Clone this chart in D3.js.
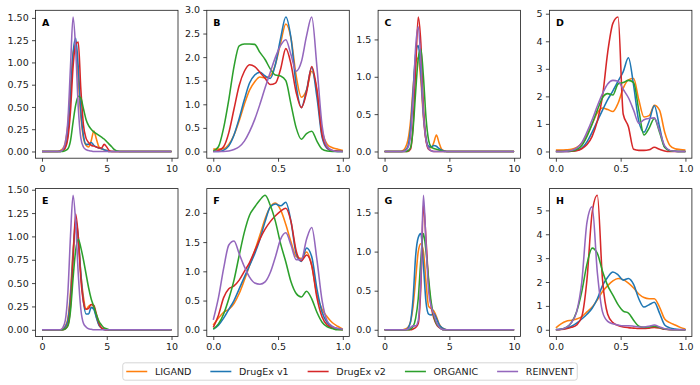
<!DOCTYPE html>
<html>
<head>
<meta charset="utf-8">
<script src="https://cdn.jsdelivr.net/npm/d3@7"></script>
<style>
  body { margin: 0; background: #fff; }
  svg { display: block; font-family: "DejaVu Sans", sans-serif; }
</style>
</head>
<body>
<svg id="chart"></svg>
<script>
// density curves of 8 properties for 5 generators

const seriesNames = ["LIGAND", "DrugEx v1", "DrugEx v2", "ORGANIC", "REINVENT"];
const panelLetters = ["A", "B", "C", "D", "E", "F", "G", "H"];

// x grids: A, C, E, G run 0..10, the others 0..1
const wideX = [0, 1.2, 1.4, 1.6, 1.8, 2.0, 2.2, 2.4, 2.6, 2.8, 3.0, 3.2, 3.4, 3.6, 3.8,
  4.0, 4.2, 4.4, 4.6, 4.8, 5.0, 5.2, 5.4, 5.6, 5.8, 6.0, 10];
const unitX = [0, 0.04, 0.08, 0.12, 0.16, 0.2, 0.24, 0.28, 0.32, 0.36, 0.4, 0.44, 0.48,
  0.52, 0.56, 0.6, 0.64, 0.68, 0.72, 0.76, 0.8, 0.84, 0.88, 0.92, 0.96, 1.0];

const wideXTicks = [0, 5, 10];
const unitXTicks = [0, 0.5, 1];

const yTicksA = [0, 0.25, 0.5, 0.75, 1, 1.25, 1.5];
const yTicksB = [0, 0.5, 1, 1.5, 2, 2.5, 3];
const yTicksC = [0, 0.5, 1, 1.5];
const yTicksD = [0, 1, 2, 3, 4, 5];
const yTicksE = [0, 0.25, 0.5, 0.75, 1, 1.25, 1.5];
const yTicksF = [0, 0.5, 1, 1.5, 2];
const yTicksG = [0, 0.5, 1, 1.5];
const yTicksH = [0, 1, 2, 3, 4, 5];

// order of rows in each: LIGAND, DrugEx v1, DrugEx v2, ORGANIC, REINVENT
const densA = [
  [0, 0, 0.01, 0.03, 0.1, 0.3, 0.7, 1.1, 1.2, 0.8, 0.4, 0.15, 0.07, 0.05, 0.12, 0.23, 0.14, 0.05, 0.03, 0.02, 0.01, 0, 0, 0, 0, 0, 0],
  [0, 0, 0, 0.01, 0.05, 0.2, 0.6, 1.1, 1.27, 0.95, 0.45, 0.18, 0.08, 0.08, 0.1, 0.07, 0.05, 0.04, 0.03, 0.02, 0.01, 0, 0, 0, 0, 0, 0],
  [0, 0, 0, 0.01, 0.04, 0.15, 0.45, 0.95, 1.2, 1.23, 0.7, 0.3, 0.15, 0.1, 0.07, 0.06, 0.05, 0.04, 0.04, 0.08, 0.05, 0.01, 0, 0, 0, 0, 0],
  [0, 0, 0, 0, 0.01, 0.03, 0.12, 0.33, 0.52, 0.62, 0.6, 0.48, 0.36, 0.29, 0.25, 0.22, 0.2, 0.18, 0.16, 0.14, 0.11, 0.08, 0.05, 0.02, 0.005, 0, 0],
  [0, 0, 0, 0.02, 0.1, 0.35, 0.95, 1.51, 1.15, 0.5, 0.15, 0.05, 0.02, 0.01, 0.005, 0, 0, 0, 0, 0, 0, 0, 0, 0, 0, 0, 0]
];
const densB = [
  [0.05, 0.05, 0.06, 0.15, 0.35, 0.65, 1.0, 1.3, 1.48, 1.58, 1.56, 1.6, 1.85, 2.3, 2.7, 2.4, 1.6, 1.15, 1.3, 1.7, 1.3, 0.45, 0.15, 0.08, 0.05, 0.02],
  [0, 0, 0.03, 0.12, 0.35, 0.7, 1.1, 1.45, 1.62, 1.68, 1.6, 1.55, 1.85, 2.4, 2.85, 2.4, 1.4, 0.93, 1.3, 1.78, 1.15, 0.3, 0.06, 0.01, 0, 0],
  [0, 0.02, 0.1, 0.4, 0.9, 1.4, 1.7, 1.84, 1.8, 1.68, 1.55, 1.42, 1.45, 1.75, 2.18, 1.85, 1.25, 0.93, 1.25, 1.8, 1.3, 0.35, 0.08, 0.02, 0.01, 0],
  [0.01, 0.1, 0.5, 1.1, 1.8, 2.24, 2.28, 2.28, 2.27, 2.1, 1.95, 1.75, 1.62, 1.6, 1.5, 1.0, 0.5, 0.26, 0.38, 0.43, 0.22, 0.05, 0.01, 0, 0, 0],
  [0, 0, 0, 0.01, 0.04, 0.1, 0.22, 0.42, 0.68, 1.0, 1.35, 1.68, 2.0, 2.25, 2.37, 2.05, 1.7, 1.9, 2.45, 2.85, 1.8, 0.55, 0.1, 0.02, 0, 0]
];
const densC = [
  [0, 0, 0.01, 0.05, 0.15, 0.4, 0.85, 1.2, 1.25, 0.95, 0.45, 0.15, 0.06, 0.05, 0.12, 0.22, 0.12, 0.03, 0.01, 0, 0, 0, 0, 0, 0, 0, 0],
  [0, 0, 0, 0.02, 0.07, 0.3, 0.8, 1.3, 1.42, 1.05, 0.5, 0.18, 0.07, 0.06, 0.08, 0.07, 0.04, 0.02, 0.005, 0, 0, 0, 0, 0, 0, 0, 0],
  [0, 0, 0, 0, 0, 0.03, 0.35, 1.1, 1.8, 1.45, 0.6, 0.15, 0.03, 0.01, 0, 0, 0, 0, 0, 0, 0, 0, 0, 0, 0, 0, 0],
  [0, 0, 0, 0, 0.01, 0.05, 0.3, 0.8, 1.25, 1.37, 1.0, 0.45, 0.15, 0.06, 0.04, 0.03, 0.02, 0.01, 0, 0, 0, 0, 0, 0, 0, 0, 0],
  [0, 0, 0, 0.01, 0.05, 0.2, 0.7, 1.4, 1.67, 1.2, 0.5, 0.15, 0.04, 0.01, 0, 0, 0, 0, 0, 0, 0, 0, 0, 0, 0, 0, 0]
];
const densD = [
  [0.05, 0.05, 0.06, 0.08, 0.15, 0.3, 0.6, 1.0, 1.4, 1.58, 1.52, 1.45, 1.75, 2.3, 2.6, 2.65, 1.88, 1.25, 1.3, 1.68, 1.5, 0.7, 0.22, 0.1, 0.07, 0.05],
  [0, 0, 0, 0.01, 0.04, 0.12, 0.35, 0.7, 1.1, 1.5, 1.88, 2.2, 2.55, 2.9, 3.4, 2.4, 1.1, 0.7, 1.1, 1.66, 0.9, 0.15, 0.03, 0.01, 0, 0],
  [0, 0, 0, 0.01, 0.03, 0.1, 0.25, 0.55, 1.1, 2.0, 3.6, 4.65, 4.88, 1.35, 0.9, 0.08, 0.04, 0.04, 0.06, 0.15, 0.08, 0.02, 0, 0, 0, 0],
  [0, 0, 0.01, 0.02, 0.07, 0.22, 0.55, 1.0, 1.5, 1.95, 2.1, 2.05, 2.45, 2.5, 2.58, 2.5, 1.5, 0.6, 0.85, 1.2, 0.7, 0.15, 0.03, 0.01, 0, 0],
  [0, 0, 0.01, 0.04, 0.12, 0.32, 0.7, 1.15, 1.65, 2.1, 2.45, 2.58, 2.55, 2.25, 1.95, 1.5, 1.02, 1.15, 1.2, 1.22, 0.75, 0.2, 0.04, 0.01, 0, 0]
];
const densE = [
  [0, 0, 0, 0.01, 0.04, 0.12, 0.4, 0.85, 1.1, 0.95, 0.6, 0.35, 0.22, 0.25, 0.27, 0.24, 0.14, 0.05, 0.02, 0.005, 0, 0, 0, 0, 0, 0, 0],
  [0, 0, 0, 0, 0.03, 0.1, 0.35, 0.8, 1.17, 1.0, 0.6, 0.3, 0.17, 0.17, 0.24, 0.22, 0.13, 0.05, 0.02, 0, 0, 0, 0, 0, 0, 0, 0],
  [0, 0, 0, 0, 0.01, 0.05, 0.25, 0.75, 1.24, 1.0, 0.55, 0.3, 0.22, 0.23, 0.27, 0.26, 0.17, 0.07, 0.02, 0.005, 0, 0, 0, 0, 0, 0, 0],
  [0, 0, 0, 0, 0.01, 0.04, 0.2, 0.55, 0.85, 0.97, 0.88, 0.75, 0.6, 0.45, 0.33, 0.25, 0.16, 0.09, 0.05, 0.02, 0.01, 0, 0, 0, 0, 0, 0],
  [0, 0, 0, 0.02, 0.1, 0.4, 1.0, 1.44, 1.15, 0.6, 0.22, 0.07, 0.03, 0.01, 0.005, 0, 0, 0, 0, 0, 0, 0, 0, 0, 0, 0, 0]
];
const densF = [
  [0.08, 0.2, 0.3, 0.35, 0.45, 0.62, 0.85, 1.1, 1.35, 1.62, 1.9, 2.1, 2.17, 2.05, 1.8, 1.5, 1.25, 1.22, 1.33, 1.1, 0.6, 0.35, 0.22, 0.12, 0.06, 0.01],
  [0.01, 0.08, 0.2, 0.35, 0.5, 0.7, 0.9, 1.1, 1.3, 1.55, 1.85, 2.1, 2.15, 2.12, 2.18, 1.85, 1.3, 1.17, 1.4, 1.25, 0.7, 0.3, 0.12, 0.05, 0.02, 0],
  [0.04, 0.25, 0.55, 0.7, 0.75, 0.85, 1.0, 1.15, 1.35, 1.55, 1.72, 1.85, 1.95, 2.03, 2.08, 1.85, 1.35, 1.18, 1.28, 1.1, 0.55, 0.22, 0.08, 0.03, 0.01, 0],
  [0.01, 0.1, 0.27, 0.53, 0.85, 1.27, 1.67, 1.96, 2.1, 2.22, 2.3, 2.13, 1.85, 1.47, 1.16, 0.82, 0.62, 0.56, 0.66, 0.53, 0.3, 0.13, 0.05, 0.02, 0, 0],
  [0.17, 0.55, 1.05, 1.45, 1.52, 1.3, 1.08, 0.9, 0.8, 0.78, 0.82, 0.98, 1.25, 1.55, 1.66, 1.45, 1.2, 1.2, 1.55, 1.75, 1.2, 0.5, 0.15, 0.06, 0.02, 0.01]
];
const densG = [
  [0, 0, 0, 0.01, 0.03, 0.1, 0.3, 0.65, 1.0, 1.1, 1.0, 0.6, 0.3, 0.27, 0.24, 0.17, 0.08, 0.03, 0.01, 0, 0, 0, 0, 0, 0, 0, 0],
  [0, 0, 0, 0, 0.02, 0.1, 0.4, 0.95, 1.18, 1.23, 0.82, 0.35, 0.2, 0.19, 0.21, 0.15, 0.07, 0.03, 0.01, 0, 0, 0, 0, 0, 0, 0, 0],
  [0, 0, 0, 0, 0, 0, 0.01, 0.03, 0.08, 0.55, 1.6, 1.15, 0.6, 0.3, 0.15, 0.07, 0.03, 0.01, 0, 0, 0, 0, 0, 0, 0, 0, 0],
  [0, 0, 0, 0, 0, 0.01, 0.04, 0.15, 0.4, 0.9, 1.23, 1.0, 0.65, 0.35, 0.18, 0.08, 0.04, 0.01, 0, 0, 0, 0, 0, 0, 0, 0, 0],
  [0, 0, 0, 0, 0.01, 0.03, 0.05, 0.05, 0.12, 0.65, 1.72, 1.1, 0.5, 0.3, 0.2, 0.1, 0.04, 0.01, 0, 0, 0, 0, 0, 0, 0, 0, 0]
];
const densH = [
  [0.08, 0.25, 0.36, 0.4, 0.45, 0.55, 0.75, 0.95, 1.25, 1.6, 1.85, 2.05, 2.15, 2.1, 1.95, 1.75, 1.5, 1.35, 1.3, 1.3, 0.95, 0.45, 0.3, 0.2, 0.1, 0.03],
  [0.01, 0.02, 0.06, 0.15, 0.28, 0.45, 0.65, 0.9, 1.3, 1.85, 2.2, 2.42, 2.3, 2.08, 2.15, 1.9, 1.3, 0.95, 1.05, 1.15, 0.7, 0.2, 0.08, 0.03, 0.01, 0],
  [0, 0.01, 0.04, 0.1, 0.2, 0.55, 2.1, 4.9, 5.63, 2.1, 0.65, 0.3, 0.18, 0.12, 0.09, 0.07, 0.05, 0.05, 0.07, 0.1, 0.07, 0.02, 0, 0, 0, 0],
  [0, 0.02, 0.1, 0.3, 0.75, 1.6, 2.75, 3.42, 3.2, 2.45, 1.85, 1.45, 1.05, 0.78, 0.7, 0.4, 0.15, 0.1, 0.12, 0.15, 0.1, 0.03, 0.01, 0, 0, 0],
  [0, 0.02, 0.1, 0.3, 0.75, 2.0, 4.5, 5.15, 2.4, 0.75, 0.35, 0.25, 0.2, 0.17, 0.17, 0.15, 0.12, 0.12, 0.15, 0.2, 0.12, 0.04, 0.01, 0, 0, 0]
];

const panels = [
  { dens: densA, grid: wideX, xTicks: wideXTicks, yTicks: yTicksA, fmt: ".2f" },
  { dens: densB, grid: unitX, xTicks: unitXTicks, yTicks: yTicksB, fmt: ".1f" },
  { dens: densC, grid: wideX, xTicks: wideXTicks, yTicks: yTicksC, fmt: ".1f" },
  { dens: densD, grid: unitX, xTicks: unitXTicks, yTicks: yTicksD, fmt: "d" },
  { dens: densE, grid: wideX, xTicks: wideXTicks, yTicks: yTicksE, fmt: ".2f" },
  { dens: densF, grid: unitX, xTicks: unitXTicks, yTicks: yTicksF, fmt: ".1f" },
  { dens: densG, grid: wideX, xTicks: wideXTicks, yTicks: yTicksG, fmt: ".1f" },
  { dens: densH, grid: unitX, xTicks: unitXTicks, yTicks: yTicksH, fmt: "d" }
];

const colors = d3.scaleOrdinal(seriesNames,
  ["#ff7f0e", "#1f77b4", "#d62728", "#2ca02c", "#9467bd"]);

const width = 700, height = 385;
const left0 = 35.5, panelW = 142.5, stepX = 171.3;
const rowTops = [10.3, 188.6], panelH = 147.9;

const svg = d3.select("#chart").attr("width", width).attr("height", height);

panels.forEach((p, k) => {
  const col = k % 4, row = Math.floor(k / 4);
  const x0 = left0 + col * stepX, y0 = rowTops[row];

  const xMin = d3.min(p.grid), xMax = d3.max(p.grid);
  const xPad = (xMax - xMin) * 0.05;
  const yMax = d3.max(p.dens, s => d3.max(s));

  const x = d3.scaleLinear([xMin - xPad, xMax + xPad], [x0, x0 + panelW]);
  const y = d3.scaleLinear([-0.05 * yMax, 1.05 * yMax], [y0 + panelH, y0]);

  const g = svg.append("g");

  const line = d3.line()
    .x((d, i) => x(p.grid[i]))
    .y(d => y(d))
    .curve(d3.curveMonotoneX);

  g.selectAll("path.curve")
    .data(p.dens)
    .join("path")
    .attr("class", "curve")
    .attr("d", line)
    .attr("fill", "none")
    .attr("stroke", (d, i) => colors(seriesNames[i]))
    .attr("stroke-width", 1.55)
    .attr("stroke-linejoin", "round");

  const xAxis = d3.axisBottom(x).tickValues(p.xTicks).tickSize(3.5).tickPadding(3.3)
    .tickFormat(p.grid === wideX ? d3.format("d") : d3.format(".1f"));
  const yAxis = d3.axisLeft(y).tickValues(p.yTicks).tickSize(3.5).tickPadding(3.3)
    .tickFormat(d3.format(p.fmt));

  g.append("g")
    .attr("transform", `translate(0, ${y0 + panelH})`)
    .call(xAxis)
    .call(a => a.select(".domain").remove());
  g.append("g")
    .attr("transform", `translate(${x0}, 0)`)
    .call(yAxis)
    .call(a => a.select(".domain").remove());

  g.selectAll(".tick text")
    .attr("font-family", "DejaVu Sans, sans-serif")
    .attr("font-size", 9.5)
    .attr("fill", "#1a1a1a");
  g.selectAll(".tick line").attr("stroke", "#1a1a1a").attr("stroke-width", 0.8);

  g.append("rect")
    .attr("x", x0).attr("y", y0)
    .attr("width", panelW).attr("height", panelH)
    .attr("fill", "none")
    .attr("stroke", "#1a1a1a")
    .attr("stroke-width", 0.8);

  g.append("text")
    .attr("x", x0 + 6.5)
    .attr("y", y0 + 15.5)
    .attr("font-size", 9.5)
    .attr("font-weight", "bold")
    .text(panelLetters[k]);
});

// legend along the bottom
const legend = svg.append("g").attr("font-size", 9.5);
const handleLen = 21, textGap = 7.7, colGap = 19, padX = 3.5;
const items = legend.selectAll("g.item")
  .data(seriesNames)
  .join("g")
  .attr("class", "item");
items.append("line")
  .attr("x1", 0).attr("x2", handleLen)
  .attr("stroke", d => colors(d))
  .attr("stroke-width", 1.55);
items.append("text")
  .attr("x", handleLen + textGap)
  .attr("dy", "0.35em")
  .attr("fill", "#1a1a1a")
  .text(d => d);

const textW = [];
items.select("text").each(function () { textW.push(this.getComputedTextLength()); });
const totalW = 2 * padX + d3.sum(textW) + seriesNames.length * (handleLen + textGap)
  + (seriesNames.length - 1) * colGap;
const legLeft = 350 - totalW / 2, legTop = 362.8, legH = 17.4;

let cx = legLeft + padX;
items.attr("transform", (d, i) => {
  const t = `translate(${cx}, ${legTop + legH / 2})`;
  cx += handleLen + textGap + textW[i] + colGap;
  return t;
});

legend.insert("rect", ":first-child")
  .attr("x", legLeft).attr("y", legTop)
  .attr("width", totalW).attr("height", legH)
  .attr("rx", 2.5)
  .attr("fill", "#fff")
  .attr("stroke", "#cccccc")
  .attr("stroke-width", 0.8);
</script>
</body>
</html>
